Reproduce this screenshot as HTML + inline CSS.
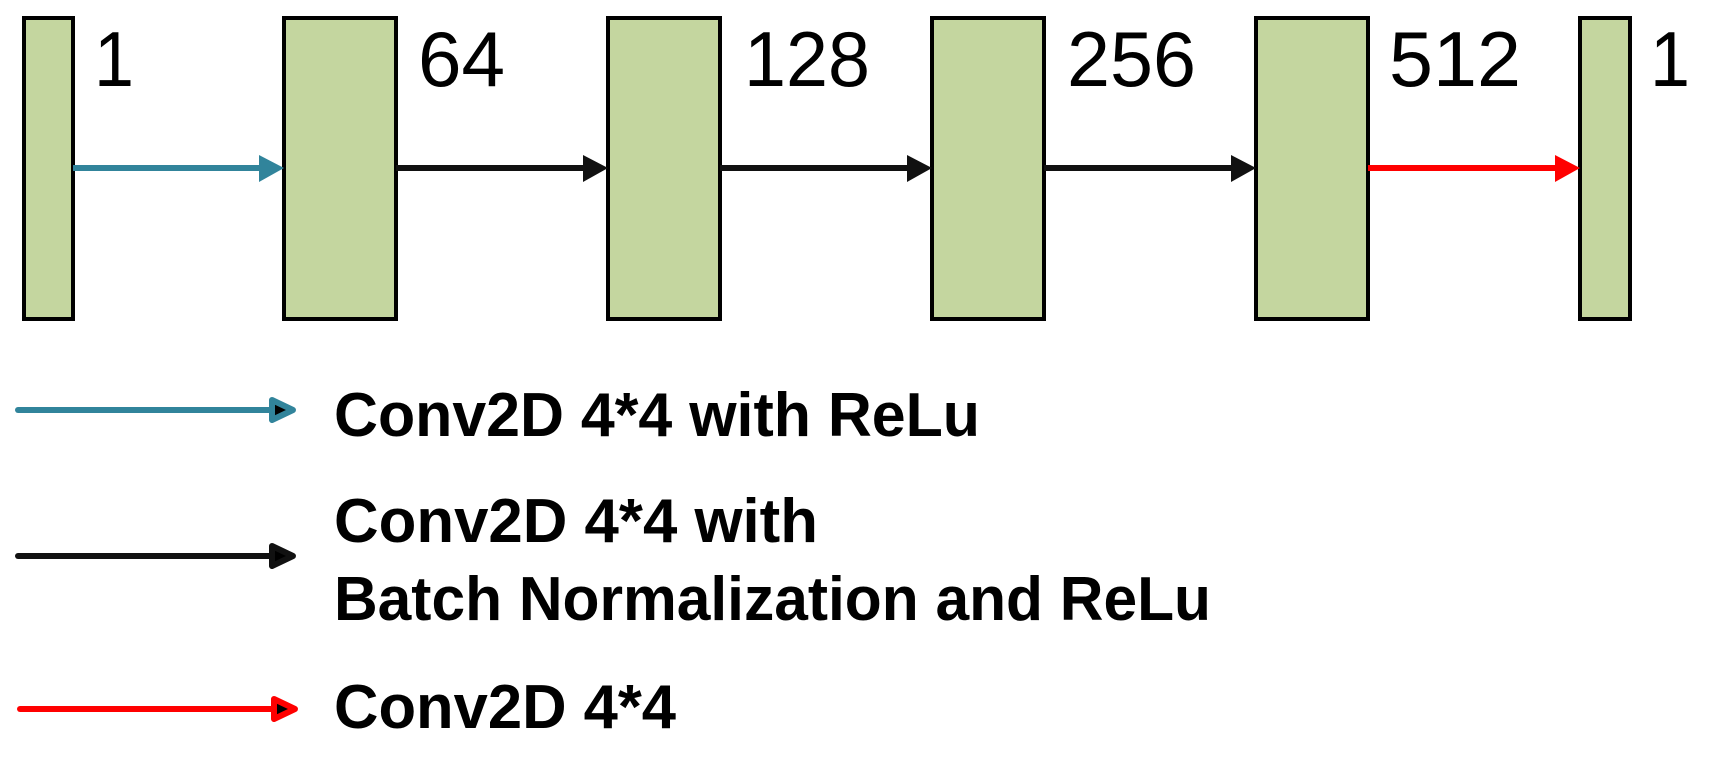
<!DOCTYPE html>
<html><head><style>html,body{margin:0;padding:0;background:#fff;width:1715px;height:770px;overflow:hidden}</style></head>
<body>
<svg width="1715" height="770" xmlns="http://www.w3.org/2000/svg" font-family="Liberation Sans, sans-serif">
<g fill="#c4d69f" stroke="#000" stroke-width="4">
<rect x="24" y="18" width="49" height="301"/>
<rect x="284" y="18" width="112" height="301"/>
<rect x="608" y="18" width="112" height="301"/>
<rect x="932" y="18" width="112" height="301"/>
<rect x="1256" y="18" width="112" height="301"/>
<rect x="1580" y="18" width="50" height="301"/>
</g>
<g stroke-width="6">
<line x1="73" y1="168" x2="264" y2="168" stroke="#31849b"/>
<polygon points="259,155 284,168 259,182" fill="#31849b" stroke="none"/>
<line x1="396" y1="168" x2="588" y2="168" stroke="#111"/>
<polygon points="583,155 608,168 583,182" fill="#111" stroke="none"/>
<line x1="720" y1="168" x2="912" y2="168" stroke="#111"/>
<polygon points="907,155 932,168 907,182" fill="#111" stroke="none"/>
<line x1="1044" y1="168" x2="1236" y2="168" stroke="#111"/>
<polygon points="1231,155 1256,168 1231,182" fill="#111" stroke="none"/>
<line x1="1368" y1="168" x2="1560" y2="168" stroke="#f00"/>
<polygon points="1555,155 1580,168 1555,182" fill="#f00" stroke="none"/>
</g>
<g font-size="78" fill="#000">
<text x="94" y="86" textLength="40" lengthAdjust="spacingAndGlyphs">1</text>
<text x="418" y="86" textLength="87" lengthAdjust="spacingAndGlyphs">64</text>
<text x="744" y="86" textLength="126" lengthAdjust="spacingAndGlyphs">128</text>
<text x="1067" y="86" textLength="129" lengthAdjust="spacingAndGlyphs">256</text>
<text x="1389" y="86" textLength="132" lengthAdjust="spacingAndGlyphs">512</text>
<text x="1650" y="86" textLength="40" lengthAdjust="spacingAndGlyphs">1</text>
</g>
<g stroke-width="6" stroke-linecap="round" stroke-linejoin="round">
<line x1="18" y1="410" x2="275" y2="410" stroke="#31849b"/>
<polygon points="272,400 293,410 272,420" fill="#000" stroke="#31849b"/>
<line x1="18" y1="556" x2="275" y2="556" stroke="#111"/>
<polygon points="272,546 293,556 272,566" fill="#000" stroke="#111"/>
<line x1="20" y1="709" x2="275" y2="709" stroke="#f00"/>
<polygon points="274,699 295,709 274,719" fill="#000" stroke="#f00"/>
</g>
<g font-size="62" font-weight="bold" fill="#000">
<text x="334" y="436" textLength="646" lengthAdjust="spacingAndGlyphs">Conv2D 4*4 with ReLu</text>
<text x="334" y="542" textLength="484" lengthAdjust="spacingAndGlyphs">Conv2D 4*4 with</text>
<text x="334" y="620" textLength="877" lengthAdjust="spacingAndGlyphs">Batch Normalization and ReLu</text>
<text x="334" y="728" textLength="342" lengthAdjust="spacingAndGlyphs">Conv2D 4*4</text>
</g>
</svg>
</body></html>
